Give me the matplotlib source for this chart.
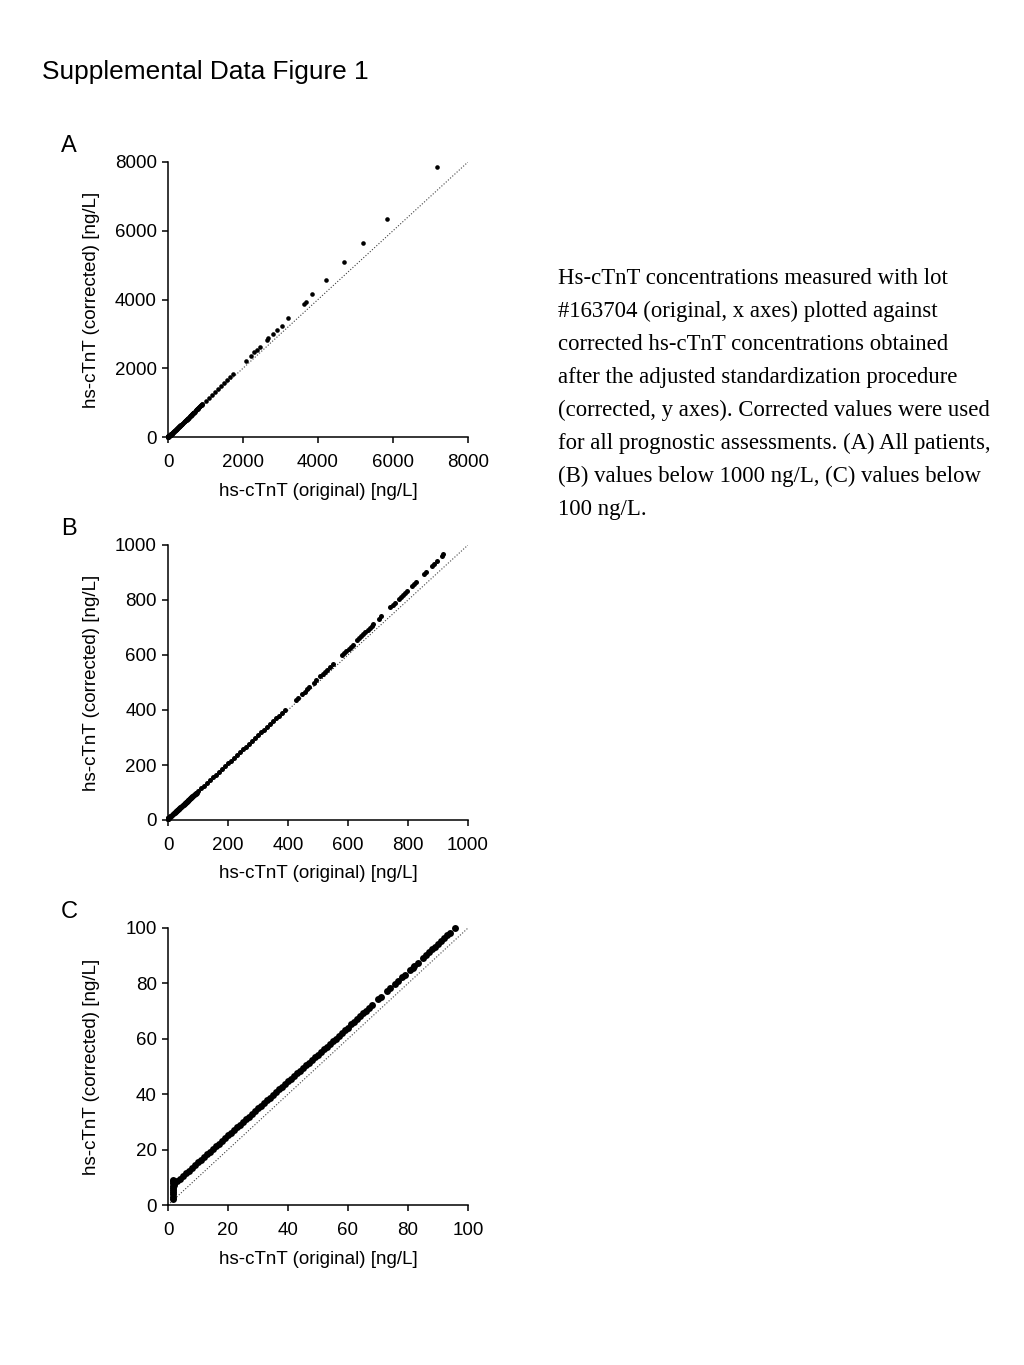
import matplotlib
matplotlib.use("Agg")
import matplotlib.pyplot as plt
import numpy as np

plt.rcParams['font.family'] = 'Liberation Sans'

# --- values (hs-cTnT, ng/L)
# below 100 ng/L
orig_low = [1.5, 1.5, 1.5, 1.5, 1.5, 1.5, 1.5, 1.5, 1.5, 1.5, 2, 2, 2,
            3, 4, 5, 6, 7, 8, 9, 10, 11, 12, 13, 14, 15, 16, 17, 18, 19, 20,
            21, 22, 23, 24, 25, 26, 27, 28, 29, 30, 31, 32, 33, 34, 35, 36, 37,
            38, 39, 40, 41, 42, 43, 44, 45, 46, 47, 48, 49, 50, 51, 52, 53, 54,
            55, 56, 57, 58, 59, 60, 61, 62, 63, 64, 65, 66, 67, 68, 70, 71, 73,
            74, 75.5, 76.5, 78, 79, 80.5, 81.5, 82, 83.2, 85, 86, 87, 88, 89,
            90, 91, 92, 93, 94, 95.7]
corr_low = [2.2, 3.0, 3.8, 4.6, 5.4, 6.2, 7.0, 7.8, 8.6, 9.0, 7.2, 8.0, 8.6,
            8.5, 9.5, 10.5, 11.5, 12.4, 13.4, 14.4, 15.4, 16.3, 17.3, 18.3,
            19.3, 20.2, 21.2, 22.2, 23.2, 24.1, 25.1, 26.1, 27.1, 28.0, 29.0,
            30.0, 31.0, 31.9, 32.9, 33.9, 34.9, 35.8, 36.8, 37.8, 38.8, 39.7,
            40.7, 41.7, 42.7, 43.6, 44.6, 45.6, 46.5, 47.5, 48.5, 49.5, 50.4,
            51.4, 52.4, 53.3, 54.3, 55.3, 56.3, 57.2, 58.2, 59.2, 60.1, 61.1,
            62.1, 63.1, 64.0, 65.2, 66.2, 67.2, 68.2, 69.2, 70.2, 71.2, 72.2,
            74.2, 75.2, 77.2, 78.2, 79.7, 80.7, 82.2, 83.2, 84.7, 85.7, 86.2,
            87.4, 89.2, 90.2, 91.2, 92.3, 93.3, 94.3, 95.3, 96.3, 97.3, 98.3,
            100.0]

# 100 - 1000 ng/L
orig_mid = [100, 110, 120, 130, 140, 150, 160, 170, 180, 190, 200, 210, 220,
            230, 240, 250, 260, 270, 280, 290, 300, 310, 320, 330, 340, 350,
            360, 370, 380, 390, 425, 432, 448, 455, 462, 470, 486, 494, 508,
            515, 522, 529, 541, 549, 580, 587, 594, 602, 609, 616, 630, 637,
            644, 651, 658, 665, 672, 679, 684, 702, 710, 741, 749, 756, 769,
            776, 783, 790, 796, 813, 821, 828, 852, 861, 880, 888, 895, 913,
            918]
corr_mid = [104.5, 114.6, 124.7, 134.8, 144.9, 155, 165.2, 175.4, 185.6,
            195.8, 206, 216.2, 226.4, 236.6, 246.8, 257, 267.2, 277.4, 287.6,
            297.8, 308, 318.2, 328.4, 338.6, 348.8, 359, 369.2, 379.4, 389.6,
            400, 436, 443, 460, 467, 475, 483, 500, 508, 522, 530, 537, 545,
            558, 566, 599, 606, 614, 623, 630, 638, 653, 661, 669, 676, 684,
            691, 699, 707, 712, 731, 740, 773, 782, 789, 803, 811, 818, 826,
            832, 850, 859, 867, 893, 902, 923, 932, 940, 960, 966]

# above 1000 ng/L
orig_high = [1000, 1080, 1160, 1240, 1320, 1400, 1480, 1560, 1640, 1720,
             2080, 2204, 2293, 2364, 2453, 2631, 2676, 2791, 2916, 3031, 3191,
             3618, 3680, 3849, 4222, 4702, 5200, 5840, 7173]
corr_high = [1052, 1137, 1222, 1307, 1392, 1479, 1564, 1650, 1744, 1831,
             2211, 2367, 2464, 2531, 2628, 2832, 2881, 2987, 3113, 3240, 3453,
             3880, 3938, 4151, 4568, 5082, 5635, 6353, 7866]

panels = ["A", "B", "C"]
limits = [8000, 1000, 100]
tick_steps = [2000, 200, 20]
marker_sizes = [3.3, 3.6, 5.0]

caption = [
    "Hs-cTnT concentrations measured with lot",
    "#163704 (original, x axes) plotted against",
    "corrected hs-cTnT concentrations obtained",
    "after the adjusted standardization procedure",
    "(corrected, y axes). Corrected values were used",
    "for all prognostic assessments. (A) All patients,",
    "(B) values below 1000 ng/L, (C) values below",
    "100 ng/L.",
]

orig_all = np.array(orig_low + orig_mid + orig_high)
corr_all = np.array(corr_low + corr_mid + corr_high)

W, H = 1024, 1365
fig = plt.figure(figsize=(W / 100, H / 100), dpi=100)

fig.text(42 / W, 1 - 79 / H, "Supplemental Data Figure 1", fontsize=18.9,
         ha="left", va="baseline")

# axes boxes in pixels: (bottom y, height)
boxes = [(437, 275), (820, 275), (1205, 277)]
letter_y = [152, 535, 918]

for panel, lim, step, ms, (by, bh), ly in zip(panels, limits, tick_steps,
                                              marker_sizes, boxes, letter_y):
    ax = fig.add_axes([168 / W, 1 - by / H, 300 / W, bh / H])

    keep = (orig_all <= lim) & (corr_all <= lim * 1.005)
    ax.plot([0, lim], [0, lim], ls=":", lw=0.8, color="0.25", zorder=1)
    ax.plot(orig_all[keep], corr_all[keep], "o", ms=ms, color="black",
            mec="none", clip_on=False, zorder=3)

    ax.set_xlim(0, lim)
    ax.set_ylim(0, lim)
    ticks = np.arange(0, lim + step, step)
    ax.set_xticks(ticks)
    ax.set_yticks(ticks)

    for s in ["top", "right"]:
        ax.spines[s].set_visible(False)
    for s in ["left", "bottom"]:
        ax.spines[s].set_linewidth(1.1)
    ax.tick_params(direction="out", length=4.5, width=1.1, labelsize=13.5)
    ax.tick_params(axis="x", pad=7.5)
    ax.tick_params(axis="y", pad=3.5)

    ax.set_xlabel("hs-cTnT (original) [ng/L]", fontsize=13.5, va="center")
    ax.set_ylabel("hs-cTnT (corrected) [ng/L]", fontsize=13.5, va="center",
                  ha="center")
    ax.xaxis.set_label_coords(0.5, -54 / bh)
    ax.yaxis.set_label_coords(-(168 - 91) / 300, 0.5)

    fig.text(61 / W, 1 - ly / H, panel, fontsize=17, ha="left",
             va="baseline")

for i, line in enumerate(caption):
    fig.text(558 / W, 1 - (284.5 + i * 32.9) / H, line,
             family="Liberation Serif", fontsize=16.4, ha="left",
             va="baseline")

plt.savefig("out.png", dpi=100, facecolor="white")
